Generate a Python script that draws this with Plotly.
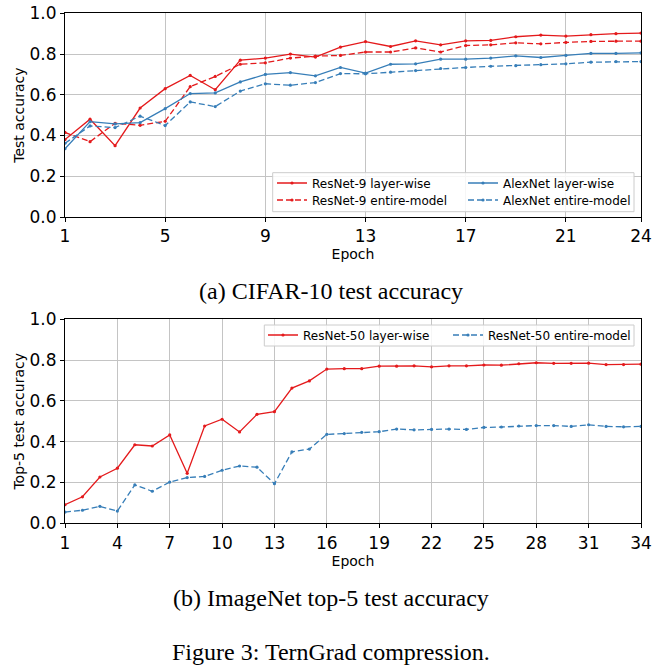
import plotly.graph_objects as go

# ---------------- data ----------------
epochs_cifar = list(range(1, 25))
resnet9_layerwise = [0.38, 0.48, 0.35, 0.535, 0.63, 0.695, 0.625, 0.77, 0.78, 0.80, 0.785, 0.834,
                     0.861, 0.837, 0.865, 0.845, 0.865, 0.867, 0.885, 0.893, 0.888, 0.895, 0.90, 0.903]
resnet9_entire = [0.415, 0.37, 0.46, 0.45, 0.47, 0.64, 0.69, 0.75, 0.757, 0.78, 0.79, 0.793,
                  0.81, 0.81, 0.83, 0.81, 0.842, 0.845, 0.855, 0.85, 0.857, 0.862, 0.863, 0.863]
alexnet_layerwise = [0.335, 0.468, 0.457, 0.463, 0.532, 0.606, 0.609, 0.663, 0.70, 0.709, 0.693, 0.734,
                     0.706, 0.75, 0.752, 0.775, 0.775, 0.78, 0.791, 0.783, 0.793, 0.803, 0.803, 0.806]
alexnet_entire = [0.362, 0.447, 0.439, 0.495, 0.449, 0.565, 0.542, 0.618, 0.654, 0.647, 0.66, 0.704,
                  0.703, 0.711, 0.719, 0.729, 0.734, 0.74, 0.743, 0.748, 0.752, 0.76, 0.763, 0.763]

epochs_imagenet = list(range(1, 35))
resnet50_layerwise = [0.091, 0.13, 0.227, 0.27, 0.385, 0.379, 0.433, 0.245, 0.477, 0.51, 0.448, 0.534,
                      0.547, 0.663, 0.698, 0.756, 0.758, 0.758, 0.77, 0.77, 0.772, 0.767, 0.772, 0.772,
                      0.776, 0.775, 0.782, 0.787, 0.784, 0.784, 0.785, 0.778, 0.778, 0.78]
resnet50_entire = [0.055, 0.064, 0.083, 0.06, 0.188, 0.157, 0.202, 0.224, 0.23, 0.26, 0.281, 0.275,
                   0.194, 0.35, 0.364, 0.436, 0.44, 0.446, 0.449, 0.462, 0.458, 0.46, 0.462, 0.46,
                   0.47, 0.472, 0.477, 0.479, 0.479, 0.475, 0.483, 0.475, 0.473, 0.475]

xticks_cifar = [1, 5, 9, 13, 17, 21, 24]
xticks_imagenet = [1, 4, 7, 10, 13, 16, 19, 22, 25, 28, 31, 34]
yticks = [0.0, 0.2, 0.4, 0.6, 0.8, 1.0]

captions = ["(a) CIFAR-10 test accuracy", "(b) ImageNet top-5 test accuracy",
            "Figure 3: TernGrad compression."]

# ---------------- styling ----------------
W, H = 670, 669
RED = "#e41a1c"
BLUE = "#377eb8"
SANS = "DejaVu Sans"
SERIF = "Liberation Serif"


def px(x):
    return x / W


def py(y):
    return 1 - y / H


fig = go.Figure()


def add(x, y, name, color, dash, xa, ya, legend):
    fig.add_trace(go.Scatter(
        x=x, y=y, name=name, mode="lines+markers",
        line=dict(color=color, width=1.3, dash=dash),
        marker=dict(color=color, size=3.2),
        xaxis=xa, yaxis=ya, legend=legend, cliponaxis=True))


add(epochs_cifar, resnet9_layerwise, "ResNet-9 layer-wise", RED, "solid", "x", "y", "legend")
add(epochs_cifar, resnet9_entire, "ResNet-9 entire-model", RED, "6px,3px", "x", "y", "legend2")
add(epochs_cifar, alexnet_layerwise, "AlexNet layer-wise", BLUE, "solid", "x", "y", "legend")
add(epochs_cifar, alexnet_entire, "AlexNet entire-model", BLUE, "6px,3px", "x", "y", "legend2")
add(epochs_imagenet, resnet50_layerwise, "ResNet-50 layer-wise", RED, "solid", "x2", "y2", "legend3")
add(epochs_imagenet, resnet50_entire, "ResNet-50 entire-model", BLUE, "6px,3px", "x2", "y2", "legend3")

axis_common = dict(
    showline=True, linecolor="black", linewidth=1, mirror=True,
    ticks="outside", ticklen=4, tickwidth=1, tickcolor="black",
    showgrid=True, gridcolor="#c4c4c4", gridwidth=1.2,
    zeroline=False, automargin=False,
    tickfont=dict(family=SANS, size=17, color="black"),
)
title_font = dict(family=SANS, size=14, color="black")

xdom = [px(65), px(641)]
fig.update_layout(
    width=W, height=H,
    margin=dict(l=0, r=0, t=0, b=0, pad=0),
    paper_bgcolor="white", plot_bgcolor="white",
    xaxis=dict(axis_common, domain=xdom, range=[1, 24], tickvals=xticks_cifar,
               anchor="y", title=dict(text="Epoch", font=title_font, standoff=0)),
    yaxis=dict(axis_common, domain=[py(217), py(13.3)], range=[0, 1], tickvals=yticks, tickformat=".1f",
               anchor="x", title=dict(text="Test accuracy", font=title_font, standoff=1)),
    xaxis2=dict(axis_common, domain=xdom, range=[1, 34], tickvals=xticks_imagenet,
                anchor="y2", title=dict(text="Epoch", font=title_font, standoff=0)),
    yaxis2=dict(axis_common, domain=[py(523.3), py(319.3)], range=[0, 1], tickvals=yticks, tickformat=".1f",
                anchor="x2", title=dict(text="Top-5 test accuracy", font=title_font, standoff=1)),
    showlegend=True,
)

leg_common = dict(orientation="h", bgcolor="rgba(0,0,0,0)", borderwidth=0,
                  font=dict(family=SANS, size=12, color="black"),
                  xanchor="left", yanchor="middle", entrywidthmode="pixels")
fig.update_layout(
    legend=dict(leg_common, x=px(272), y=py(183), entrywidth=146),
    legend2=dict(leg_common, x=px(272), y=py(200), entrywidth=146),
    legend3=dict(leg_common, x=px(263), y=py(335), entrywidth=140),
)

# legend frames (matplotlib-style, semi-opaque white with light grey edge)
for (x0, y0, x1, y1) in [(272.7, 172.7, 634, 211.7), (264.3, 325, 634, 346)]:
    fig.add_shape(type="rect", xref="paper", yref="paper",
                  x0=px(x0), x1=px(x1), y0=py(y1), y1=py(y0),
                  line=dict(color="#cccccc", width=1), fillcolor="rgba(255,255,255,0.85)",
                  layer="above")

for text, ycap in zip(captions, [291, 598, 652]):
    fig.add_annotation(text=text, xref="paper", yref="paper", x=px(331), y=py(ycap),
                       xanchor="center", yanchor="middle", showarrow=False,
                       font=dict(family=SERIF, size=24, color="black"))

fig.write_html("out.html", config={"displayModeBar": False},
               post_script="document.body.style.margin='0';document.body.style.overflow='hidden';")
